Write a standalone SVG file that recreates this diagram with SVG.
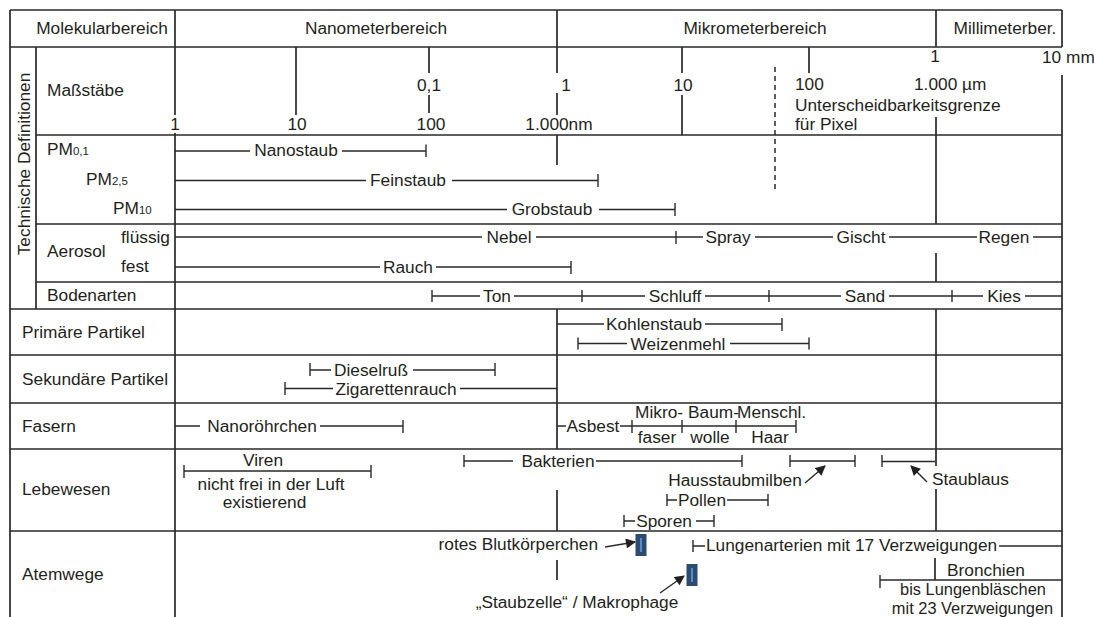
<svg xmlns="http://www.w3.org/2000/svg" width="1094" height="617" viewBox="0 0 1094 617">
<style>
text{font-family:"Liberation Sans",Arial,Helvetica,sans-serif;font-size:17.3px;fill:#231f20}
.m{text-anchor:middle}
.e{text-anchor:end}
.sub{font-size:11.5px}
.sm{font-size:16.4px}
.g{stroke:#2a2a2a;stroke-width:1.7;fill:none}
.b{stroke:#2a2a2a;stroke-width:1.4;fill:none}
.d{stroke:#2a2a2a;stroke-width:1.5;fill:none;stroke-dasharray:5 4}
.cell{fill:#2b4b70}
.core{fill:#5a8cc4}
</style>
<defs>
<marker id="ah" viewBox="0 0 10 10" refX="9" refY="5" markerWidth="11" markerHeight="10" markerUnits="userSpaceOnUse" orient="auto">
<path d="M0,0 L10,5 L0,10 z" fill="#231f20"/>
</marker>
</defs>
<rect width="1094" height="617" fill="#ffffff"/>

<g id="grid">
<path class="g" d="M10,10H1062 M10,47H1062 M36,135H1062 M36,224H1062 M36,282H1062 M10,309H1062 M10,355H1062 M10,403H1062 M10,449H1062 M10,531H1062"/>
<path class="g" d="M10,10V617 M36,47V309 M175,10V115 M175,133V617 M1062,10V47 M1062,75V617"/>
<path class="g" d="M557,10V47 M557,47V73 M557,93V115 M557,135V165 M557,309V449 M557,490V531 M557,560V580"/>
<path class="g" d="M936,10V47 M936,117V224 M936,253V282 M936,309V466 M936,489V531 M935,558V580"/>
<path class="g" d="M296,47V115 M429,47V73 M429,95V113 M682,47V73 M682,95V135 M809,47V73"/>
<path class="d" d="M775,67V192"/>
</g>

<g id="header">
<text class="m" x="102" y="34">Molekularbereich</text>
<text class="m" x="376" y="34">Nanometerbereich</text>
<text class="m" x="755" y="34">Mikrometerbereich</text>
<text class="m" x="1005" y="34">Millimeterber.</text>
</g>

<g id="side-label">
<text class="m" transform="translate(30,164) rotate(-90)">Technische Definitionen</text>
</g>

<g id="row-massstaebe">
<text x="47" y="96">Maßstäbe</text>
<text class="m" x="175" y="130">1</text>
<text class="m" x="297" y="130">10</text>
<text class="m" x="429" y="91">0,1</text>
<text class="m" x="431" y="130">100</text>
<text class="m" x="566" y="91">1</text>
<text class="m" x="559" y="130">1.000nm</text>
<text class="m" x="683" y="91">10</text>
<text x="795" y="90">100</text>
<text x="914" y="90">1.000 µm</text>
<text x="795" y="110.5">Unterscheidbarkeitsgrenze<tspan x="795" y="130">für Pixel</tspan></text>
<text class="m" x="935" y="62">1</text>
<text x="1042" y="63">10 mm</text>
</g>

<g id="row-pm">
<text x="47" y="155">PM<tspan class="sub">0,1</tspan></text>
<text x="86" y="185">PM<tspan class="sub">2,5</tspan></text>
<text x="113" y="213.5">PM<tspan class="sub">10</tspan></text>
<text class="m" x="296" y="156">Nanostaub</text>
<text class="m" x="408" y="185.5">Feinstaub</text>
<text class="m" x="552" y="214.5">Grobstaub</text>
</g>

<g id="row-aerosol">
<text x="47" y="257">Aerosol</text>
<text x="121" y="243">flüssig</text>
<text x="121" y="272">fest</text>
<text class="m" x="509" y="243">Nebel</text>
<text class="m" x="728" y="243">Spray</text>
<text class="m" x="861" y="243">Gischt</text>
<text class="m" x="1004" y="243">Regen</text>
<text class="m" x="408" y="273">Rauch</text>
</g>

<g id="row-bodenarten">
<text x="47" y="301">Bodenarten</text>
<text class="m" x="497" y="302">Ton</text>
<text class="m" x="675" y="302">Schluff</text>
<text class="m" x="865" y="302">Sand</text>
<text class="m" x="1004" y="302">Kies</text>
</g>

<g id="row-primaer">
<text x="22" y="338">Primäre Partikel</text>
<text class="m" x="654" y="330">Kohlenstaub</text>
<text class="m" x="678" y="349.5">Weizenmehl</text>
</g>

<g id="row-sekundaer">
<text x="22" y="384.5">Sekundäre Partikel</text>
<text class="m" x="371" y="376">Dieselruß</text>
<text class="m" x="396" y="394.5">Zigarettenrauch</text>
</g>

<g id="row-fasern">
<text x="22" y="432">Fasern</text>
<text class="m" x="262" y="432">Nanoröhrchen</text>
<text class="m" x="593" y="432">Asbest</text>
<text x="635" y="418">Mikro-</text>
<text class="m" x="657" y="443">faser</text>
<text x="688" y="418">Baum-</text>
<text class="m" x="710" y="443">wolle</text>
<text x="737" y="418">Menschl.</text>
<text class="m" x="770" y="443">Haar</text>
</g>

<g id="row-lebewesen">
<text x="22" y="495">Lebewesen</text>
<text class="m" x="263" y="466">Viren</text>
<text class="m" x="271" y="489.5">nicht frei in der Luft<tspan x="264.5" y="508">existierend</tspan></text>
<text class="m" x="558" y="466.5">Bakterien</text>
<text class="m" x="735" y="486">Hausstaubmilben</text>
<text x="932" y="485">Staublaus</text>
<text class="m" x="702" y="506">Pollen</text>
<text class="m" x="664" y="527">Sporen</text>
</g>

<g id="row-atemwege">
<text x="22" y="580">Atemwege</text>
<text class="e" x="598" y="550">rotes Blutkörperchen</text>
<text class="m" x="577" y="607.5">„Staubzelle“ / Makrophage</text>
<text x="706" y="551">Lungenarterien mit 17 Verzweigungen</text>
<text class="m" x="986" y="576">Bronchien</text>
<text class="m sm" x="973" y="595">bis Lungenbläschen</text>
<text class="m sm" x="972.5" y="613.5">mit 23 Verzweigungen</text>
<g id="cell-blut">
<rect class="cell" x="635.5" y="534" width="11" height="22"/>
<rect class="core" x="640" y="538" width="2" height="14"/>
</g>
<g id="cell-makrophage">
<rect class="cell" x="686.5" y="564" width="11" height="22"/>
<rect class="core" x="691" y="568" width="2" height="14"/>
</g>
</g>

<g id="connectors">
<path class="b" d="M175,151H250 M342,151H426 M426,144.5V157"/>
<path class="b" d="M175,180.5H366 M452,180.5H598 M598,174V187"/>
<path class="b" d="M175,209.5H507 M599,209.5H675 M675,203V216"/>
<path class="b" d="M175,237H482 M536,237H703 M676,231V244 M755,237H833 M889,237H977 M1033,237H1062"/>
<path class="b" d="M175,267H380 M436,267H571 M571,261V274"/>
<path class="b" d="M432,290V302 M432,296H480 M514,296H645 M582,290V302 M705,296H841 M769,290V302 M889,296H983 M952,290V302 M1025,296H1062"/>
<path class="b" d="M557,324H604 M705,324H782 M782,318V331"/>
<path class="b" d="M578,337.5V349.5 M578,343.5H627 M730,343.5H809 M809,337.5V349.5"/>
<path class="b" d="M310,363V376 M310,370H331 M413,370H495 M495,363V376"/>
<path class="b" d="M285,382V395 M285,388.5H333 M460,388.5H557"/>
<path class="b" d="M175,426H200 M320,426H403 M403,420V433"/>
<path class="b" d="M557,426H566 M620,426H796 M632,420V433 M682,420V433 M736,420V433 M796,420V433"/>
<path class="b" d="M184,465V478 M184,471H371 M371,465V478"/>
<path class="b" d="M464,455V467 M464,461H513 M596,461H742 M742,455V467"/>
<path class="b" d="M790,455V467 M790,461H855 M855,455V467"/>
<path class="b" d="M882,455V467 M882,461.5H935"/>
<path class="b" d="M667,494V506 M667,500H677 M727,500H768 M768,494V506"/>
<path class="b" d="M624,515V527 M624,521H635 M696,521H714 M714,515V527"/>
<path class="b" d="M693,540V552 M693,546H705 M999,546H1062"/>
<path class="b" d="M880,575V588 M880,580H1062"/>
<path class="b" d="M805,483L825,466" marker-end="url(#ah)"/>
<path class="b" d="M927,482L911,466" marker-end="url(#ah)"/>
<path class="b" d="M605,547L635,542" marker-end="url(#ah)"/>
<path class="b" d="M660,593L684,576" marker-end="url(#ah)"/>
</g>
</svg>
